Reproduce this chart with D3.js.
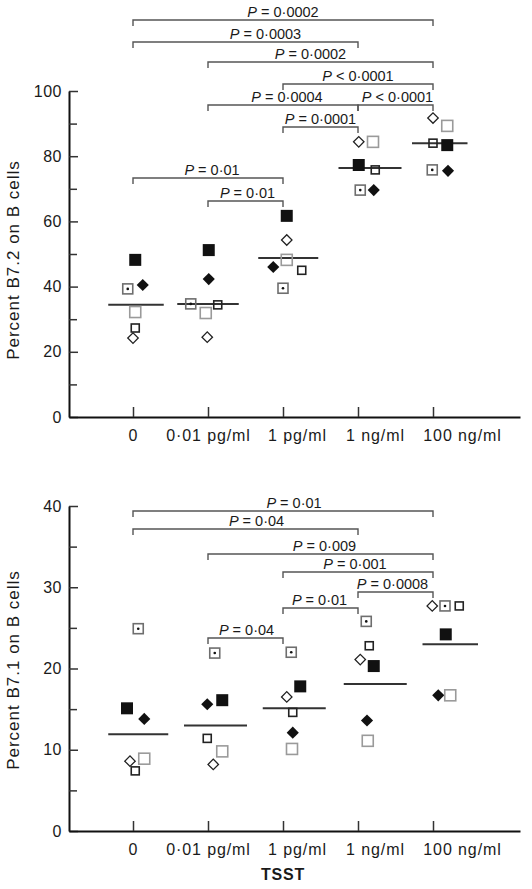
<!DOCTYPE html>
<html><head><meta charset="utf-8">
<script src="https://cdn.jsdelivr.net/npm/d3@7"></script>
<style>body{margin:0;background:#fff} svg{display:block}</style>
</head><body>
<svg id="c" width="532" height="889"></svg>
<script>
// ---------------- DATA ----------------
const categories = ["0", "0\u00b701 pg/ml", "1 pg/ml", "1 ng/ml", "100 ng/ml"];
const subjects = ["filledSquare", "filledDiamond", "dotSquare", "openDiamond", "greySquare", "smallSquare"];

// Panel A: Percent B7.2 on B cells
const b72_filledSquare  = [48.2, 51.2, 61.7, 77.3, 83.4];
const b72_filledDiamond = [40.5, 42.3, 46.0, 69.6, 75.5];
const b72_dotSquare     = [39.3, 34.7, 39.5, 69.6, 75.8];
const b72_openDiamond   = [24.2, 24.5, 54.3, 84.4, 91.7];
const b72_greySquare    = [32.2, 31.9, 48.2, 84.4, 89.3];
const b72_smallSquare   = [27.3, 34.4, 45.0, 75.8, 84.0];
const b72_mean          = [34.4, 34.7, 48.8, 76.4, 84.0];
const b72_ticks = [0, 20, 40, 60, 80, 100];
const b72_minor = [10, 30, 50, 70, 90];
const b72_brackets = [
  {from: 0, to: 4, op: "=", p: "0\u00b70002"},
  {from: 0, to: 3, op: "=", p: "0\u00b70003"},
  {from: 1, to: 4, op: "=", p: "0\u00b70002"},
  {from: 2, to: 4, op: "<", p: "0\u00b70001"},
  {from: 1, to: 3, op: "=", p: "0\u00b70004"},
  {from: 3, to: 4, op: "<", p: "0\u00b70001"},
  {from: 2, to: 3, op: "=", p: "0\u00b70001"},
  {from: 0, to: 2, op: "=", p: "0\u00b701"},
  {from: 1, to: 2, op: "=", p: "0\u00b701"}
];

// Panel B: Percent B7.1 on B cells
const b71_filledSquare  = [15.1, 16.1, 17.8, 20.3, 24.2];
const b71_filledDiamond = [13.8, 15.6, 12.1, 13.6, 16.7];
const b71_dotSquare     = [24.9, 21.9, 22.0, 25.8, 27.7];
const b71_openDiamond   = [8.6, 8.2, 16.5, 21.1, 27.7];
const b71_greySquare    = [8.9, 9.8, 10.1, 11.1, 16.7];
const b71_smallSquare   = [7.4, 11.4, 14.6, 22.8, 27.7];
const b71_mean          = [11.9, 13.0, 15.1, 18.1, 23.0];
const b71_ticks = [0, 10, 20, 30, 40];
const b71_minor = [5, 15, 25, 35];
const b71_brackets = [
  {from: 0, to: 4, op: "=", p: "0\u00b701"},
  {from: 0, to: 3, op: "=", p: "0\u00b704"},
  {from: 1, to: 4, op: "=", p: "0\u00b7009"},
  {from: 2, to: 4, op: "=", p: "0\u00b7001"},
  {from: 3, to: 4, op: "=", p: "0\u00b70008"},
  {from: 2, to: 3, op: "=", p: "0\u00b701"},
  {from: 1, to: 2, op: "=", p: "0\u00b704"}
];

// ---------------- LAYOUT ----------------
const FONT = "'Liberation Sans', Arial, Helvetica, sans-serif";
const AX_LEFT = 69, AX_RIGHT = 520;
const CAT0_X = 133, CAT_STEP = 75;
const catLabelShift = [0, 0, 14, 17, 29];

const panels = [
  {
    yTop: 91, yBottom: 417, max: 100,
    ticks: b72_ticks, minor: b72_minor,
    series: {filledSquare: b72_filledSquare, filledDiamond: b72_filledDiamond, dotSquare: b72_dotSquare,
             openDiamond: b72_openDiamond, greySquare: b72_greySquare, smallSquare: b72_smallSquare},
    mean: b72_mean,
    // horizontal jitter of each subject, in category units
    jitter: {
      filledSquare:  [0.03, 0.01, 0.05, 0.01, 0.19],
      filledDiamond: [0.13, 0.01, -0.13, 0.21, 0.20],
      dotSquare:     [-0.07, -0.23, 0.0, 0.03, -0.01],
      openDiamond:   [0.0, -0.01, 0.05, 0.01, 0.0],
      greySquare:    [0.03, -0.03, 0.05, 0.20, 0.19],
      smallSquare:   [0.03, 0.13, 0.25, 0.23, 0.0]
    },
    meanShift: [0.04, 0.0, 0.07, 0.16, 0.09],
    meanHalf: [0.37, 0.41, 0.40, 0.42, 0.37],
    brackets: b72_brackets,
    bracketY: [20, 42, 62, 84, 105, 105, 127, 178, 201],
    labelShift: [0, 20, -10, 0, 4, 2, 0, 4, 2],
    ylabel: "Percent B7.2 on B cells", ylabelY: 260,
    xlabel: null
  },
  {
    yTop: 506, yBottom: 831, max: 40,
    ticks: b71_ticks, minor: b71_minor,
    series: {filledSquare: b71_filledSquare, filledDiamond: b71_filledDiamond, dotSquare: b71_dotSquare,
             openDiamond: b71_openDiamond, greySquare: b71_greySquare, smallSquare: b71_smallSquare},
    mean: b71_mean,
    jitter: {
      filledSquare:  [-0.08, 0.19, 0.23, 0.21, 0.17],
      filledDiamond: [0.15, -0.01, 0.13, 0.12, 0.07],
      dotSquare:     [0.07, 0.09, 0.11, 0.11, 0.16],
      openDiamond:   [-0.04, 0.07, 0.05, 0.03, -0.01],
      greySquare:    [0.15, 0.19, 0.12, 0.13, 0.23],
      smallSquare:   [0.03, -0.01, 0.13, 0.15, 0.35]
    },
    meanShift: [0.07, 0.1, 0.15, 0.23, 0.23],
    meanHalf: [0.40, 0.42, 0.42, 0.42, 0.37],
    brackets: b71_brackets,
    bracketY: [511, 529, 554, 572, 592, 608, 638],
    labelShift: [11, 11, 4, -3, -3, -1, 1],
    ylabel: "Percent B7.1 on B cells", ylabelY: 670,
    xlabel: "TSST"
  }
];

const svg = d3.select("#c");

const x = d3.scaleLinear()
  .domain([(AX_LEFT - CAT0_X) / CAT_STEP, (AX_RIGHT - CAT0_X) / CAT_STEP])
  .range([AX_LEFT, AX_RIGHT]);

function drawMarker(g, type, cx, cy) {
  if (type === "filledSquare") {
    g.append("rect").attr("x", cx - 6).attr("y", cy - 6).attr("width", 12).attr("height", 12)
      .attr("fill", "#111");
  } else if (type === "filledDiamond") {
    g.append("rect").attr("x", -4.3).attr("y", -4.3).attr("width", 8.6).attr("height", 8.6)
      .attr("fill", "#111").attr("transform", `translate(${cx},${cy}) rotate(45)`);
  } else if (type === "dotSquare") {
    g.append("rect").attr("x", cx - 5).attr("y", cy - 5).attr("width", 10).attr("height", 10)
      .attr("fill", "none").attr("stroke", "#6e6e6e").attr("stroke-width", 1.6);
    g.append("circle").attr("cx", cx).attr("cy", cy).attr("r", 1.3).attr("fill", "#111");
  } else if (type === "openDiamond") {
    g.append("rect").attr("x", -3.7).attr("y", -3.7).attr("width", 7.4).attr("height", 7.4)
      .attr("fill", "none").attr("stroke", "#222").attr("stroke-width", 1.3)
      .attr("transform", `translate(${cx},${cy}) rotate(45)`);
  } else if (type === "greySquare") {
    g.append("rect").attr("x", cx - 5.5).attr("y", cy - 5.5).attr("width", 11).attr("height", 11)
      .attr("fill", "none").attr("stroke", "#9a9a9a").attr("stroke-width", 1.6);
  } else if (type === "smallSquare") {
    g.append("rect").attr("x", cx - 4).attr("y", cy - 4).attr("width", 8).attr("height", 8)
      .attr("fill", "none").attr("stroke", "#222").attr("stroke-width", 1.6);
  }
}

panels.forEach(P => {
  const y = d3.scaleLinear().domain([0, P.max]).range([P.yBottom, P.yTop]);
  const g = svg.append("g");

  // Y axis (ticks pointing inward)
  const yAx = g.append("g").attr("transform", `translate(${AX_LEFT},0)`)
    .call(d3.axisLeft(y).tickValues(P.ticks).tickFormat(d3.format("d"))
      .tickSizeInner(-9).tickSizeOuter(0).tickPadding(7));
  yAx.select(".domain").attr("stroke", "#111").attr("stroke-width", 2);
  yAx.selectAll(".tick line").attr("stroke", "#333").attr("stroke-width", 1.5);
  yAx.selectAll("text").attr("font-family", FONT).attr("font-size", 16)
    .attr("fill", "#1a1a1a").attr("letter-spacing", 0.5);

  const yMin = g.append("g").attr("transform", `translate(${AX_LEFT},0)`)
    .call(d3.axisLeft(y).tickValues(P.minor).tickFormat("").tickSizeInner(-8).tickSizeOuter(0));
  yMin.select(".domain").remove();
  yMin.selectAll(".tick line").attr("stroke", "#333").attr("stroke-width", 1.5);

  // X axis
  const xAx = g.append("g").attr("transform", `translate(0,${P.yBottom})`)
    .call(d3.axisBottom(x).tickValues(d3.range(categories.length)).tickFormat(i => categories[i])
      .tickSizeInner(-10).tickSizeOuter(0).tickPadding(13));
  xAx.select(".domain").attr("stroke", "#111").attr("stroke-width", 2);
  xAx.selectAll(".tick line").attr("stroke", "#333").attr("stroke-width", 1.5);
  xAx.selectAll("text").attr("font-family", FONT).attr("font-size", 16)
    .attr("fill", "#1a1a1a").attr("letter-spacing", 0.9)
    .attr("x", (d, i) => catLabelShift[i]);

  // Y label
  g.append("text").attr("transform", `translate(19,${P.ylabelY}) rotate(-90)`)
    .attr("text-anchor", "middle").attr("font-family", FONT).attr("font-size", 17)
    .attr("letter-spacing", 1).attr("fill", "#1a1a1a").text(P.ylabel);

  if (P.xlabel) {
    g.append("text").attr("x", x(2)).attr("y", 880).attr("text-anchor", "middle")
      .attr("font-family", FONT).attr("font-size", 16).attr("font-weight", 600)
      .attr("letter-spacing", 0.8).attr("fill", "#1a1a1a").text(P.xlabel);
  }

  // Mean lines
  P.mean.forEach((m, i) => {
    const c = i + P.meanShift[i];
    g.append("line").attr("x1", x(c - P.meanHalf[i])).attr("x2", x(c + P.meanHalf[i]))
      .attr("y1", y(m)).attr("y2", y(m)).attr("stroke", "#333").attr("stroke-width", 2);
  });

  // Points
  const pg = g.append("g");
  subjects.forEach(s => {
    P.series[s].forEach((v, i) => {
      drawMarker(pg, s, x(i + P.jitter[s][i]), y(v));
    });
  });

  // Brackets
  P.brackets.forEach((b, k) => {
    const by = P.bracketY[k];
    const x1 = x(b.from), x2 = x(b.to);
    g.append("path")
      .attr("d", `M${x1},${by + 6}V${by}H${x2}V${by + 6}`)
      .attr("fill", "none").attr("stroke", "#555").attr("stroke-width", 1.4);
    const t = g.append("text").attr("x", (x1 + x2) / 2 + P.labelShift[k]).attr("y", by - 3)
      .attr("text-anchor", "middle").attr("font-family", FONT).attr("font-size", 14.5)
      .attr("fill", "#1a1a1a");
    t.append("tspan").attr("font-style", "italic").text("P");
    t.append("tspan").text(` ${b.op} ${b.p}`);
  });
});
</script>
</body></html>
